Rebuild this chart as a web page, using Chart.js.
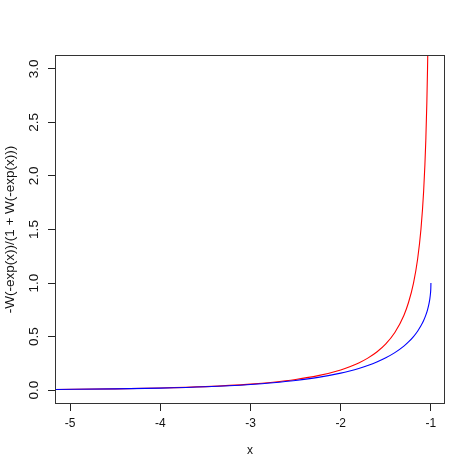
<!DOCTYPE html>
<html>
<head>
<meta charset="utf-8">
<script src="https://cdn.jsdelivr.net/npm/chart.js@4.4.1/dist/chart.umd.min.js"></script>
<style>
html, body { margin: 0; padding: 0; background: #fff; }
#wrap { width: 474px; height: 473px; }
</style>
</head>
<body>
<div id="wrap"><canvas id="lambertChart"></canvas></div>
<script>
// tick positions
const xTicks = [-5, -4, -3, -2, -1];
const yTicks = [0, 0.5, 1, 1.5, 2, 2.5, 3];

// blue curve
const blueX = [-5.17, -4.5, -4, -3.5, -3, -2.75, -2.5, -2.25, -2, -1.9, -1.8, -1.7, -1.6, -1.5, -1.4, -1.3,
    -1.2485, -1.1931, -1.1478, -1.1108, -1.0808, -1.0567, -1.0377, -1.0231, -1.0125, -1.0054, -1.0013, -1];
const blueY = [0.0057, 0.0112, 0.0187, 0.0312, 0.0525, 0.0685, 0.0898, 0.1187, 0.1586, 0.1789, 0.2023, 0.2299, 0.2623, 0.3016, 0.3497, 0.4109,
    0.45, 0.5, 0.55, 0.6, 0.65, 0.7, 0.75, 0.8, 0.85, 0.9, 0.95, 1.0];

// red curve, runs off the top near x = -1
const redX = [-5.17, -4.5, -4, -3.5, -3, -2.75, -2.5, -2.25, -2, -1.9, -1.8, -1.7, -1.6, -1.5, -1.4, -1.3,
    -1.2485, -1.1931, -1.1478, -1.1108, -1.0808, -1.0567, -1.0377, -1.0231, -1.0125, -1.0054];
const redY = [0.0058, 0.0114, 0.0190, 0.0322, 0.0554, 0.0735, 0.0987, 0.1347, 0.1885, 0.2179, 0.2536, 0.2986, 0.3556, 0.4318, 0.5378, 0.6975,
    0.818, 1.0, 1.222, 1.5, 1.857, 2.333, 3.0, 4.0, 5.667, 9.0];

const font = { family: 'Liberation Sans, Arial, sans-serif', size: 12 };
const yFont = { family: 'Liberation Sans, Arial, sans-serif', size: 13.5 };

// R-style box round the plot region
const boxPlugin = {
    id: 'box',
    afterDraw(chart) {
        const a = chart.chartArea;
        const c = chart.ctx;
        c.save();
        c.strokeStyle = '#333';
        c.lineWidth = 1;
        c.strokeRect(Math.round(a.left) + 0.5, Math.round(a.top) + 0.5,
            Math.round(a.right - a.left) - 1, Math.round(a.bottom - a.top) - 1);
        c.restore();
    }
};

const ctx = document.getElementById('lambertChart').getContext('2d');
new Chart(ctx, {
    type: 'line',
    data: {
        datasets: [{
            label: 'blue',
            data: blueX.map((x, i) => ({ x: x, y: blueY[i] })),
            borderColor: '#0000ff',
            borderWidth: 1.1,
            pointRadius: 0,
            fill: false,
            cubicInterpolationMode: 'monotone'
        }, {
            label: 'red',
            data: redX.map((x, i) => ({ x: x, y: redY[i] })),
            borderColor: '#ff0000',
            borderWidth: 1.1,
            pointRadius: 0,
            fill: false,
            cubicInterpolationMode: 'monotone'
        }]
    },
    options: {
        responsive: true,
        maintainAspectRatio: false,
        animation: false,
        layout: { padding: { left: 0, top: 55, right: 29, bottom: 0 } },
        plugins: {
            legend: { display: false },
            tooltip: { enabled: false }
        },
        scales: {
            x: {
                type: 'linear',
                bounds: 'data',
                min: -5.167,
                max: -0.844,
                afterBuildTicks: s => { s.ticks = xTicks.map(v => ({ value: v })); },
                afterFit: s => { s.height = 69; },
                grid: { drawOnChartArea: false, tickLength: 7, color: '#222' },
                border: { display: false },
                ticks: { color: '#111', font: font, padding: 5, maxRotation: 0, autoSkip: false,
                    callback: v => String(v) },
                title: { display: true, text: 'x', color: '#111', font: font, padding: { top: 0, bottom: 15 } }
            },
            y: {
                type: 'linear',
                bounds: 'data',
                min: -0.13,
                max: 3.13,
                afterBuildTicks: s => { s.ticks = yTicks.map(v => ({ value: v })); },
                afterFit: s => { s.width = 55; },
                grid: { drawOnChartArea: false, tickLength: 7, color: '#222' },
                border: { display: false },
                ticks: { color: '#111', font: yFont, padding: 4, minRotation: 90, maxRotation: 90,
                    crossAlign: 'center', autoSkip: false, callback: v => v.toFixed(1) },
                title: { display: true, text: '-W(-exp(x))/(1 + W(-exp(x)))', color: '#111', font: yFont,
                    padding: { top: 2, bottom: 0 } }
            }
        }
    },
    plugins: [boxPlugin]
});
</script>
</body>
</html>
